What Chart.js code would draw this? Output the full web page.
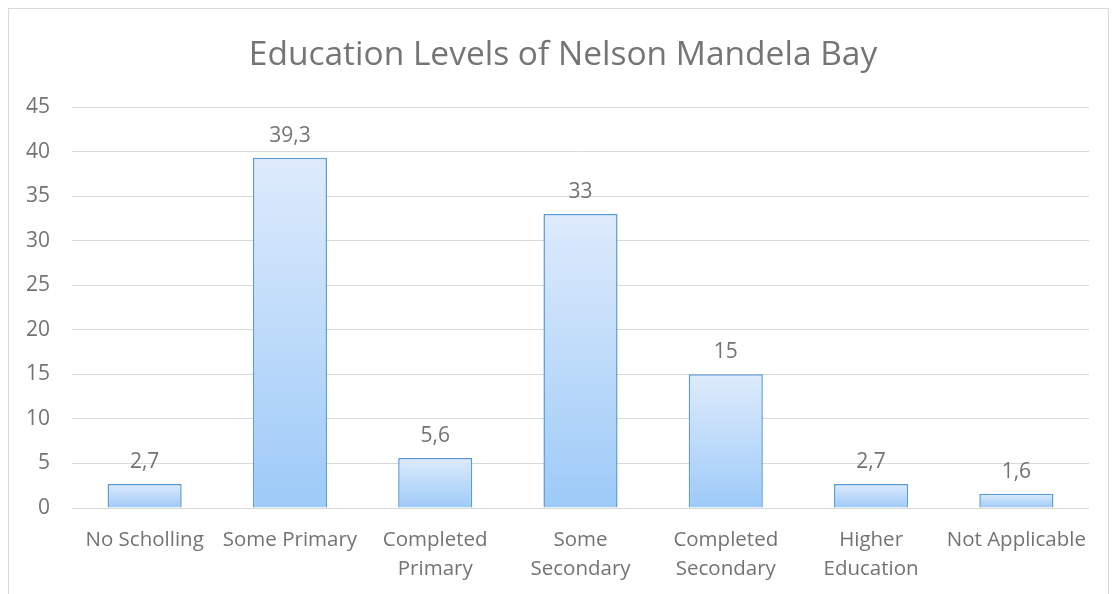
<!DOCTYPE html>
<html>
<head>
<meta charset="utf-8">
<script src="https://cdn.jsdelivr.net/npm/chart.js@4/dist/chart.umd.min.js"></script>
<style>
  html, body { margin: 0; padding: 0; background: #fff; }
  #wrap { position: relative; width: 1114px; height: 594px; }
  #frame { position: absolute; left: 8px; top: 8px; width: 1101px; height: 600px; border: 1px solid #d9d9d9; box-sizing: border-box; pointer-events: none; }
</style>
</head>
<body>
<div id="wrap">
  <canvas id="chart" width="1114" height="594"></canvas>
  <div id="frame"></div>
</div>
<script>
const chartTitle = 'Education Levels of Nelson Mandela Bay';
const categories = [
  'No Scholling',
  'Some Primary',
  ['Completed', 'Primary'],
  ['Some', 'Secondary'],
  ['Completed', 'Secondary'],
  ['Higher', 'Education'],
  'Not Applicable'
];
const percentages = [2.7, 39.3, 5.6, 33, 15, 2.7, 1.6];
const yTicks = [0, 5, 10, 15, 20, 25, 30, 35, 40, 45];

const FONT = "'Open Sans', 'Noto Sans', sans-serif";
const TEXT = '#737373';

// light-to-medium blue fill, stretched over each bar's own height
function barFill(ctx) {
  const chart = ctx.chart;
  const y = chart.scales.y;
  if (!chart.chartArea || !y || ctx.raw === undefined) return '#c4defb';
  const top = y.getPixelForValue(ctx.raw);
  const bottom = y.getPixelForValue(0);
  if (!isFinite(top) || bottom - top < 1) return '#c4defb';
  const g = chart.ctx.createLinearGradient(0, top, 0, bottom);
  g.addColorStop(0, '#deebfc');
  g.addColorStop(1, '#9dcaf8');
  return g;
}

// value labels above the bars, with a decimal comma
const valueLabels = {
  id: 'valueLabels',
  afterDatasetsDraw(chart) {
    const c = chart.ctx;
    const meta = chart.getDatasetMeta(0);
    c.save();
    c.font = '21px ' + FONT;
    c.fillStyle = TEXT;
    c.textAlign = 'center';
    c.textBaseline = 'alphabetic';
    meta.data.forEach((bar, i) => {
      const txt = String(percentages[i]).replace('.', ',');
      c.fillText(txt, bar.x, bar.y - 16);
    });
    c.restore();
  }
};

// title centred on the whole frame rather than on the padded layout box
const frameTitle = {
  id: 'frameTitle',
  afterDraw(chart) {
    const c = chart.ctx;
    c.save();
    c.font = '33.5px ' + FONT;
    c.fillStyle = '#757575';
    c.textAlign = 'center';
    c.textBaseline = 'middle';
    c.fillText(chartTitle, 563, 55);
    c.restore();
  }
};

new Chart(document.getElementById('chart'), {
  type: 'bar',
  data: {
    labels: categories,
    datasets: [{
      data: percentages,
      backgroundColor: barFill,
      borderColor: '#5b9bd5',
      borderWidth: 1.5,
      borderSkipped: 'bottom',
      barPercentage: 0.51,
      categoryPercentage: 1
    }]
  },
  options: {
    responsive: false,
    animation: false,
    layout: { padding: { left: 0, right: 25, top: 107, bottom: 0 } },
    plugins: {
      legend: { display: false },
      tooltip: { enabled: false },
      title: { display: false }
    },
    scales: {
      x: {
        afterFit: s => { s.height = 86; },
        grid: { display: false },
        border: { display: false },
        ticks: {
          color: TEXT,
          font: { family: FONT, size: 20.5, lineHeight: 1.41 },
          padding: 10,
          maxRotation: 0,
          autoSkip: false
        }
      },
      y: {
        min: 0,
        max: 45,
        afterBuildTicks: s => { s.ticks = yTicks.map(v => ({ value: v })); },
        afterFit: s => { s.width = 72; },
        grid: { color: '#d9d9d9', lineWidth: 1, drawTicks: false },
        border: { display: false },
        ticks: {
          color: TEXT,
          font: { family: FONT, size: 21 },
          padding: 22
        }
      }
    }
  },
  plugins: [valueLabels, frameTitle]
});
</script>
</body>
</html>
